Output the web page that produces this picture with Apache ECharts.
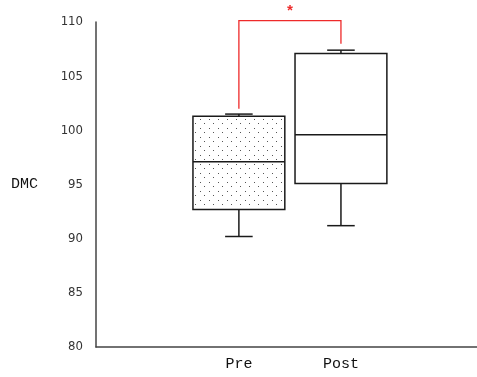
<!DOCTYPE html>
<html><head><meta charset="utf-8">
<script src="https://cdn.jsdelivr.net/npm/echarts@6/dist/echarts.min.js"></script>
<style>html,body{margin:0;padding:0;background:#fff}#c{width:477px;height:377px}</style>
</head><body><div id="c"></div>
<script>
// ---- data ----
const categories = ['Pre', 'Post'];
const whiskerLow  = [90.2, 91.2];
const q1          = [92.7, 95.1];
const median      = [97.1, 99.6];
const q3          = [101.3, 107.1];
const whiskerHigh = [101.5, 107.4];
const yTicks = [80, 85, 90, 95, 100, 105, 110];
const bracketTop = 110.12;
const bracketEnds = [102.0, 108.0];
const bracketLabel = '*';
const yName = 'DMC';

// ---- pattern ----
const pc = document.createElement('canvas');
pc.width = 9; pc.height = 9;
const pctx = pc.getContext('2d');
pctx.fillStyle = '#fff'; pctx.fillRect(0, 0, 9, 9);
pctx.fillStyle = '#555';
pctx.fillRect(2, 2, 1, 1);
pctx.fillRect(6, 6, 1, 1);
const dotPattern = { image: pc, repeat: 'repeat' };

const boxData = categories.map((c, i) => [i + 1, whiskerLow[i], q1[i], median[i], q3[i], whiskerHigh[i]]);
const bracketData = [[1, 2, bracketTop, bracketEnds[0], bracketEnds[1]]];

const lineStyle = { stroke: '#1a1a1a', lineWidth: 1.5, fill: null };

function renderBox(params, api) {
  const x = api.value(0);
  const pLow = api.coord([x, api.value(1)]);
  const pQ1 = api.coord([x, api.value(2)]);
  const pMed = api.coord([x, api.value(3)]);
  const pQ3 = api.coord([x, api.value(4)]);
  const pHigh = api.coord([x, api.value(5)]);
  const hw = api.size([0.9, 0])[0] / 2;
  const cw = api.size([0.27, 0])[0] / 2;
  const cx = pQ1[0];
  const fill = params.dataIndex === 0 ? dotPattern : '#fff';
  return {
    type: 'group',
    children: [
      { type: 'line', shape: { x1: cx, y1: pLow[1], x2: cx, y2: pQ1[1] }, style: lineStyle },
      { type: 'line', shape: { x1: cx, y1: pQ3[1], x2: cx, y2: pHigh[1] }, style: lineStyle },
      { type: 'line', shape: { x1: cx - cw, y1: pLow[1], x2: cx + cw, y2: pLow[1] }, style: lineStyle },
      { type: 'line', shape: { x1: cx - cw, y1: pHigh[1], x2: cx + cw, y2: pHigh[1] }, style: lineStyle },
      { type: 'rect', shape: { x: cx - hw, y: pQ3[1], width: 2 * hw, height: pQ1[1] - pQ3[1] },
        style: { fill: fill, stroke: '#1a1a1a', lineWidth: 1.5 } },
      { type: 'line', shape: { x1: cx - hw, y1: pMed[1], x2: cx + hw, y2: pMed[1] }, style: lineStyle }
    ]
  };
}

function renderBracket(params, api) {
  const a = api.coord([api.value(0), api.value(3)]);
  const aTop = api.coord([api.value(0), api.value(2)]);
  const b = api.coord([api.value(1), api.value(4)]);
  const bTop = api.coord([api.value(1), api.value(2)]);
  return {
    type: 'group',
    children: [
      { type: 'polyline', shape: { points: [a, aTop, bTop, b] },
        style: { stroke: '#ee2a2a', lineWidth: 1.3, fill: null } },
      { type: 'text', style: { text: bracketLabel, x: (aTop[0] + bTop[0]) / 2, y: aTop[1] - 8,
        fill: '#ee2a2a', font: 'bold 15px "Liberation Mono", monospace', align: 'center', verticalAlign: 'middle' } }
    ]
  };
}

const chart = echarts.init(document.getElementById('c'));
chart.setOption({
  animation: false,
  backgroundColor: '#fff',
  grid: { left: 96, right: 0, top: 22, bottom: 30 },
  xAxis: {
    type: 'value', min: -0.4, max: 3.333,
    splitLine: { show: false },
    axisLine: { onZero: false, lineStyle: { color: '#444', width: 1.5 } },
    axisTick: { show: false },
    axisLabel: {
      customValues: categories.map((c, i) => i + 1),
      formatter: v => categories[Math.round(v) - 1] || '',
      color: '#111', fontSize: 15, fontFamily: '"Liberation Mono", monospace', margin: 10
    }
  },
  yAxis: {
    type: 'value', min: yTicks[0], max: yTicks[yTicks.length - 1], interval: 5,
    name: yName, nameLocation: 'middle', nameRotate: 0, nameGap: 58,
    nameTextStyle: { color: '#111', fontSize: 15, fontFamily: '"Liberation Mono", monospace', padding: [6, 0, 0, 0] },
    splitLine: { show: false },
    axisLine: { show: true, onZero: false, lineStyle: { color: '#444', width: 1.5 } },
    axisTick: { show: false },
    axisLabel: { color: '#333', fontSize: 13, fontFamily: '"Liberation Sans Narrow", "DejaVu Sans Condensed", sans-serif', margin: 13 }
  },
  series: [
    { type: 'custom', renderItem: renderBox, data: boxData, clip: false, silent: true },
    { type: 'custom', renderItem: renderBracket, data: bracketData, clip: false, silent: true }
  ]
});
</script></body></html>
